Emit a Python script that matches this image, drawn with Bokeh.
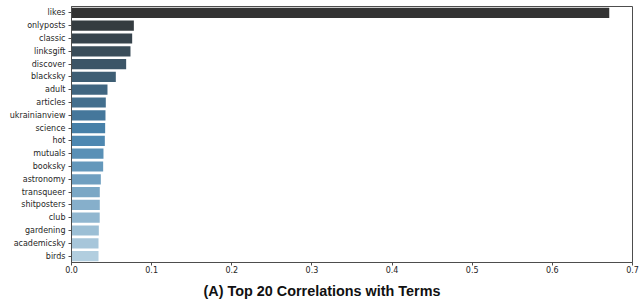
import colorsys
from bokeh.plotting import figure
from bokeh.models import FactorRange, Range1d, FixedTicker, PrintfTickFormatter, Title, ColumnDataSource
from bokeh.embed import file_html
from bokeh.resources import INLINE

terms = ["likes", "onlyposts", "classic", "linksgift", "discover", "blacksky", "adult",
         "articles", "ukrainianview", "science", "hot", "mutuals", "booksky", "astronomy",
         "transqueer", "shitposters", "club", "gardening", "academicsky", "birds"]
correlations = [0.671, 0.0778, 0.0757, 0.0736, 0.0682, 0.0553, 0.0449, 0.0428, 0.0424,
                0.0420, 0.0416, 0.0399, 0.0395, 0.0366, 0.0353, 0.0353, 0.0352, 0.0341,
                0.0337, 0.0337]
x_ticks = [0.0, 0.1, 0.2, 0.3, 0.4, 0.5, 0.6, 0.7]
title_text = "(A) Top 20 Correlations with Terms"

# dark -> mid blue -> light blue blend, desaturated (style only)
anchors = [(51, 51, 51), (55, 135, 192), (171, 208, 230)]
def blend(t):
    if t <= 0.5:
        a, b, f = anchors[0], anchors[1], t / 0.5
    else:
        a, b, f = anchors[1], anchors[2], (t - 0.5) / 0.5
    return [(a[k] + (b[k] - a[k]) * f) / 255.0 for k in range(3)]
colors = []
n = len(terms)
for i in range(n):
    r, g, b = blend(i / (n - 1))
    h, l, s = colorsys.rgb_to_hls(r, g, b)
    r, g, b = colorsys.hls_to_rgb(h, l, s * 0.75)
    colors.append("#%02x%02x%02x" % (round(r * 255), round(g * 255), round(b * 255)))

src = ColumnDataSource(dict(term=terms, corr=correlations, color=colors))

p = figure(width=639, height=305, output_backend="svg", toolbar_location=None,
           y_range=FactorRange(factors=terms[::-1], range_padding=0),
           x_range=Range1d(0, 0.7),
           min_border_left=71, min_border_right=7, min_border_top=6, min_border_bottom=43)
p.hbar(y="term", right="corr", left=0, height=0.8, color="color", source=src, line_color=None)

p.xgrid.visible = False
p.ygrid.visible = False
p.outline_line_color = "#4d4d4d"
p.outline_line_width = 1
p.background_fill_color = "white"
p.border_fill_color = "white"

for ax in (p.xaxis, p.yaxis):
    ax.axis_line_color = "#4d4d4d"
    ax.major_tick_line_color = "#4d4d4d"
    ax.major_tick_out = 3
    ax.major_tick_in = 0
    ax.minor_tick_out = 0
    ax.minor_tick_in = 0
    ax.major_label_text_font = "DejaVu Sans"
    ax.major_label_text_font_size = "8px"
    ax.major_label_text_color = "#262626"

p.xaxis.ticker = FixedTicker(ticks=x_ticks)
p.xaxis.formatter = PrintfTickFormatter(format="%.1f")
p.xaxis.major_label_standoff = 0
p.yaxis.major_label_standoff = 3

t = Title(text=title_text, align="left", offset=132, text_font="Liberation Sans",
          text_font_style="bold", text_font_size="14.4px", text_color="#111111", standoff=11)
p.add_layout(t, "below")

open("out.html", "w").write(file_html(p, INLINE))
